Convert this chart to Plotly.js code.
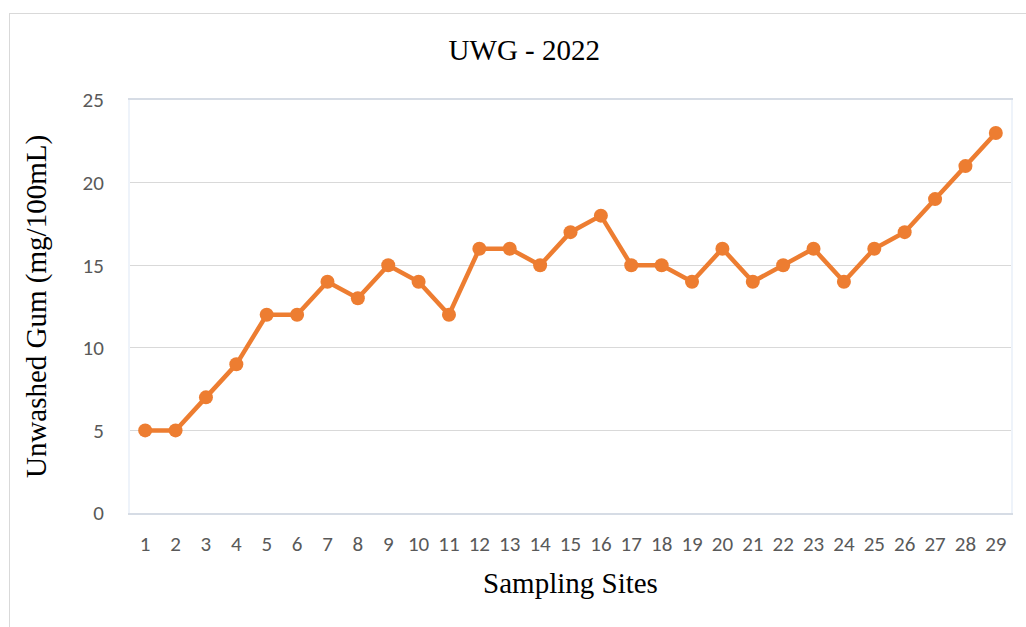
<!DOCTYPE html>
<html>
<head>
<meta charset="utf-8">
<script src="https://cdn.plot.ly/plotly-3.0.1.min.js"></script>
<style>
html,body{margin:0;padding:0;background:#fff;overflow:hidden;}
#wrap{position:relative;width:1026px;height:627px;}
#frame{position:absolute;left:9px;top:13px;width:1100px;height:700px;border-left:1px solid #d9d9d9;border-top:1px solid #d9d9d9;pointer-events:none;}
#chart{position:absolute;left:0;top:0;width:1026px;height:627px;}
</style>
</head>
<body>
<div id="wrap">
<div id="chart"></div>
<div id="frame"></div>
</div>
<script>
const sites = ["1","2","3","4","5","6","7","8","9","10","11","12","13","14","15","16","17","18","19","20","21","22","23","24","25","26","27","28","29"];
const unwashedGum = [5,5,7,9,12,12,14,13,15,14,12,16,16,15,17,18,15,15,14,16,14,15,16,14,16,17,19,21,23];
const yTicks = [0,5,10,15,20,25];

const serif = '"Liberation Serif", "Times New Roman", serif';
const sans = 'Carlito, Calibri, "Open Sans", "Liberation Sans", sans-serif';

const trace = {
  x: sites,
  y: unwashedGum,
  type: 'scatter',
  mode: 'lines+markers',
  line: {color: '#ED7D31', width: 4.5},
  marker: {color: '#ED7D31', size: 14},
  showlegend: false,
  hoverinfo: 'x+y'
};

const layout = {
  width: 1026,
  height: 627,
  margin: {l: 130, r: 15, t: 100, b: 114},
  paper_bgcolor: 'rgba(0,0,0,0)',
  plot_bgcolor: '#ffffff',
  title: {
    text: 'UWG - 2022',
    font: {family: serif, size: 29, color: '#000000'},
    x: 0.511, xanchor: 'center', xref: 'container',
    y: 50, yref: 'container', yanchor: 'middle'
  },
  xaxis: {
    type: 'category',
    range: [-0.5, 28.5],
    showgrid: false,
    showline: true,
    linecolor: '#d6dce5',
    linewidth: 2,
    mirror: true,
    ticks: '',
    ticklabelstandoff: 11,
    tickfont: {family: sans, size: 21, color: '#595959'},
    title: {
      text: 'Sampling Sites',
      font: {family: serif, size: 29, color: '#000000'},
      standoff: 16
    },
    zeroline: false,
    fixedrange: true
  },
  yaxis: {
    range: [0, 25],
    tickvals: yTicks,
    ticktext: yTicks.map(String),
    showgrid: true,
    gridcolor: '#d9d9d9',
    gridwidth: 1,
    showline: true,
    linecolor: '#eef3fa',
    linewidth: 2,
    mirror: true,
    ticks: '',
    ticklabelstandoff: 20,
    tickfont: {family: sans, size: 21, color: '#595959'},
    title: {
      text: 'Unwashed Gum (mg/100mL)',
      font: {family: serif, size: 29, color: '#000000'},
      standoff: 27
    },
    zeroline: false,
    fixedrange: true
  }
};

Plotly.newPlot('chart', [trace], layout, {displayModeBar: false, staticPlot: true});
</script>
</body>
</html>
